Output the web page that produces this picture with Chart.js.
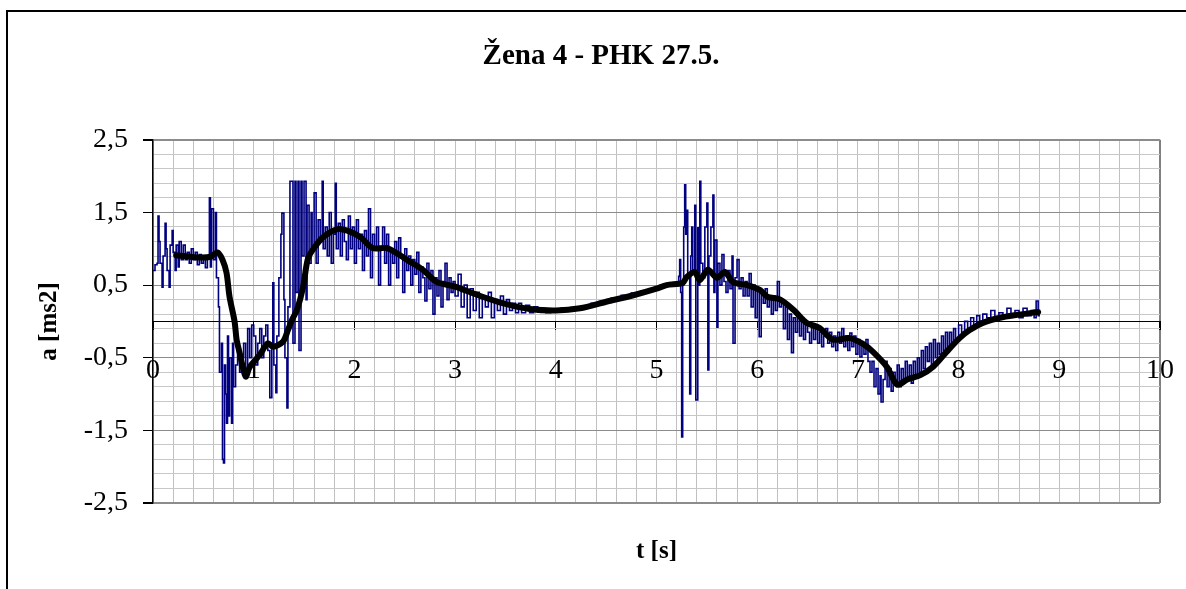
<!DOCTYPE html>
<html><head><meta charset="utf-8">
<script src="https://cdn.jsdelivr.net/npm/chart.js@4"></script>
<style>html,body{margin:0;padding:0;background:#fff;} #wrap{width:1186px;height:589px;position:relative;}</style>
</head><body><div id="wrap"><canvas id="c"></canvas></div>
<script>
const chartTitle = 'Žena 4 - PHK 27.5.';
const xAxisTitle = 't [s]';
const yAxisTitle = 'a [ms2]';
const xLabelValues = [0,1,2,3,4,5,6,7,8,9,10];
const yLabelValues = [-2.5,-1.5,-0.5,0.5,1.5,2.5];

// smoothed acceleration (black)
const blackTrace = [
[0.23,0.91],[0.37,0.89],[0.47,0.88],[0.57,0.89],[0.64,0.95],[0.69,0.85],[0.73,0.67],[0.76,0.34],
[0.81,0.00],[0.83,-0.25],[0.86,-0.43],[0.92,-0.76],[0.96,-0.63],[1.06,-0.46],[1.14,-0.30],[1.19,-0.35],
[1.29,-0.28],[1.34,-0.12],[1.38,0.02],[1.43,0.16],[1.49,0.47],[1.54,0.87],[1.61,1.03],[1.69,1.16],
[1.83,1.27],[1.93,1.25],[2.06,1.16],[2.18,1.01],[2.32,1.01],[2.42,0.94],[2.52,0.85],[2.68,0.71],
[2.82,0.54],[3.00,0.48],[3.25,0.35],[3.50,0.24],[3.74,0.17],[4.00,0.15],[4.24,0.18],[4.50,0.27],
[4.77,0.36],[5.00,0.45],[5.10,0.50],[5.26,0.53],[5.30,0.61],[5.38,0.68],[5.43,0.57],[5.51,0.71],
[5.60,0.60],[5.68,0.68],[5.76,0.54],[5.90,0.50],[6.03,0.43],[6.10,0.34],[6.23,0.30],[6.36,0.16],
[6.49,-0.02],[6.62,-0.09],[6.75,-0.25],[6.92,-0.23],[7.05,-0.31],[7.15,-0.42],[7.29,-0.63],[7.39,-0.87],
[7.49,-0.80],[7.62,-0.74],[7.75,-0.62],[7.88,-0.42],[8.01,-0.23],[8.11,-0.12],[8.24,-0.02],[8.41,0.05],
[8.58,0.09],[8.79,0.13]
];

// raw acceleration (blue)
const blueTrace = [
[0.00,0.70],[0.02,0.78],[0.04,0.80],[0.05,1.45],[0.06,1.10],[0.07,0.80],[0.09,0.47],[0.10,0.90],
[0.12,1.35],[0.13,1.00],[0.14,0.70],[0.16,0.47],[0.17,1.05],[0.19,1.25],[0.20,0.95],[0.22,0.70],
[0.23,1.05],[0.25,0.75],[0.26,1.10],[0.28,0.85],[0.30,1.05],[0.32,0.85],[0.34,0.95],[0.36,0.80],
[0.38,1.00],[0.40,0.85],[0.42,0.95],[0.44,0.78],[0.46,0.92],[0.48,0.80],[0.50,0.90],[0.52,0.74],
[0.54,0.88],[0.56,1.70],[0.57,0.75],[0.58,1.55],[0.60,0.85],[0.62,1.50],[0.63,0.60],[0.65,0.20],
[0.66,-0.70],[0.68,-0.30],[0.69,-1.90],[0.70,-1.95],[0.71,-0.60],[0.72,-1.00],[0.73,-1.40],[0.74,-0.20],
[0.75,-1.30],[0.76,-0.50],[0.78,-1.40],[0.79,-0.30],[0.80,-0.90],[0.82,-0.60],[0.84,-0.40],[0.86,-0.70],
[0.88,-0.50],[0.90,-0.30],[0.92,-0.70],[0.94,-0.10],[0.96,-0.50],[0.98,-0.05],[1.00,-0.20],[1.02,-0.60],
[1.04,-0.30],[1.06,-0.10],[1.08,-0.50],[1.10,-0.20],[1.12,-0.05],[1.14,-0.40],[1.16,-1.05],[1.18,-0.30],
[1.19,0.53],[1.20,-0.60],[1.22,-0.98],[1.23,-0.20],[1.25,0.60],[1.27,1.20],[1.28,1.49],[1.30,0.30],
[1.31,-0.50],[1.33,-1.19],[1.34,0.20],[1.36,1.93],[1.38,1.93],[1.39,-0.30],[1.41,1.93],[1.42,0.40],
[1.44,1.93],[1.45,-0.40],[1.47,1.93],[1.48,0.90],[1.50,1.93],[1.52,0.30],[1.53,1.60],[1.55,0.80],
[1.57,1.50],[1.58,1.00],[1.60,1.77],[1.62,0.80],[1.64,1.40],[1.66,1.10],[1.68,1.93],[1.69,1.00],
[1.71,1.30],[1.73,0.90],[1.75,1.50],[1.77,0.80],[1.79,1.20],[1.81,1.90],[1.82,1.00],[1.84,1.35],
[1.86,0.90],[1.88,1.40],[1.90,1.10],[1.92,0.85],[1.94,1.45],[1.96,1.00],[1.98,1.30],[2.00,0.80],
[2.02,1.40],[2.04,1.00],[2.06,1.20],[2.08,0.70],[2.10,1.25],[2.12,0.90],[2.14,1.55],[2.16,0.60],
[2.18,1.20],[2.20,1.00],[2.22,1.30],[2.24,0.50],[2.26,1.00],[2.28,1.30],[2.30,0.80],[2.32,1.20],
[2.34,0.50],[2.36,1.00],[2.38,0.80],[2.40,1.10],[2.42,0.60],[2.44,1.15],[2.46,0.90],[2.48,0.40],
[2.50,1.00],[2.52,0.70],[2.54,0.90],[2.56,0.50],[2.58,0.85],[2.60,0.65],[2.62,0.95],[2.64,0.40],
[2.66,0.75],[2.68,0.60],[2.70,0.28],[2.72,0.80],[2.74,0.45],[2.76,0.70],[2.78,0.10],[2.80,0.60],
[2.82,0.35],[2.84,0.70],[2.86,0.20],[2.88,0.55],[2.90,0.80],[2.92,0.30],[2.94,0.60],[2.96,0.40],
[2.98,0.55],[3.00,0.35],[3.03,0.65],[3.06,0.20],[3.09,0.50],[3.12,0.05],[3.15,0.45],[3.18,0.15],
[3.21,0.40],[3.24,0.05],[3.27,0.35],[3.30,0.20],[3.33,0.40],[3.36,0.05],[3.39,0.30],[3.42,0.15],
[3.45,0.35],[3.48,0.10],[3.51,0.30],[3.54,0.15],[3.57,0.25],[3.60,0.12],[3.63,0.25],[3.66,0.12],
[3.70,0.22],[3.74,0.12],[3.78,0.20],[3.82,0.13],[3.86,0.18],[3.90,0.12],[3.95,0.17],[4.00,0.14],
[4.05,0.18],[4.10,0.15],[4.15,0.19],[4.20,0.17],[4.25,0.21],[4.30,0.20],[4.35,0.25],[4.40,0.24],
[4.45,0.28],[4.50,0.28],[4.55,0.32],[4.60,0.31],[4.65,0.36],[4.70,0.35],[4.75,0.39],[4.80,0.39],
[4.85,0.42],[4.90,0.42],[4.95,0.45],[5.00,0.46],[5.05,0.49],[5.10,0.49],[5.15,0.52],[5.20,0.53],
[5.22,0.62],[5.23,0.85],[5.24,0.40],[5.25,-1.59],[5.26,0.50],[5.27,1.30],[5.28,1.88],[5.29,1.20],
[5.30,1.53],[5.31,0.60],[5.33,-1.00],[5.34,0.90],[5.35,1.30],[5.36,0.70],[5.38,1.60],[5.39,-1.08],
[5.41,1.29],[5.42,0.50],[5.43,1.93],[5.44,0.80],[5.46,0.60],[5.48,1.30],[5.50,1.63],[5.51,-0.67],
[5.52,0.90],[5.54,1.30],[5.56,1.74],[5.57,0.40],[5.58,1.12],[5.60,-0.08],[5.61,0.80],[5.63,0.50],
[5.65,0.92],[5.67,0.55],[5.69,0.40],[5.71,0.70],[5.73,0.45],[5.75,0.90],[5.76,-0.30],[5.78,0.60],
[5.80,0.85],[5.82,0.45],[5.84,0.60],[5.86,0.35],[5.88,0.55],[5.90,0.35],[5.92,0.66],[5.94,0.20],
[5.96,0.50],[5.98,0.05],[6.00,0.45],[6.02,-0.21],[6.04,0.40],[6.06,0.25],[6.08,0.45],[6.10,0.20],
[6.12,0.35],[6.14,0.10],[6.16,0.35],[6.18,0.15],[6.20,0.55],[6.22,0.20],[6.24,0.30],[6.26,-0.10],
[6.28,0.20],[6.30,-0.25],[6.32,0.10],[6.34,-0.43],[6.36,0.05],[6.38,-0.15],[6.40,0.10],[6.42,-0.20],
[6.44,0.05],[6.46,-0.25],[6.48,0.00],[6.50,-0.15],[6.52,-0.30],[6.54,-0.05],[6.56,-0.25],[6.58,-0.10],
[6.60,-0.30],[6.62,-0.15],[6.64,-0.35],[6.66,-0.20],[6.68,-0.10],[6.70,-0.30],[6.72,-0.15],[6.74,-0.35],
[6.76,-0.20],[6.78,-0.40],[6.80,-0.15],[6.82,-0.30],[6.84,-0.10],[6.86,-0.35],[6.88,-0.20],[6.90,-0.40],
[6.92,-0.16],[6.94,-0.35],[6.96,-0.20],[6.98,-0.45],[7.00,-0.25],[7.02,-0.49],[7.04,-0.30],[7.06,-0.45],
[7.08,-0.25],[7.10,-0.55],[7.12,-0.70],[7.14,-0.55],[7.16,-0.90],[7.18,-0.65],[7.20,-1.00],[7.22,-0.75],
[7.23,-1.11],[7.25,-0.80],[7.27,-0.55],[7.29,-0.90],[7.31,-0.65],[7.33,-0.96],[7.35,-0.70],[7.37,-0.85],
[7.39,-0.60],[7.41,-0.90],[7.43,-0.65],[7.45,-0.85],[7.47,-0.55],[7.49,-0.80],[7.51,-0.60],[7.53,-0.85],
[7.55,-0.55],[7.57,-0.75],[7.59,-0.50],[7.61,-0.70],[7.63,-0.40],[7.65,-0.65],[7.67,-0.35],[7.69,-0.55],
[7.71,-0.30],[7.73,-0.60],[7.75,-0.25],[7.77,-0.50],[7.79,-0.30],[7.81,-0.45],[7.83,-0.20],[7.85,-0.40],
[7.87,-0.15],[7.89,-0.35],[7.91,-0.15],[7.93,-0.30],[7.95,-0.10],[7.97,-0.25],[8.00,-0.05],[8.03,-0.15],
[8.06,0.00],[8.09,-0.10],[8.12,0.05],[8.15,-0.05],[8.18,0.08],[8.21,0.00],[8.24,0.10],[8.28,0.05],
[8.32,0.15],[8.36,0.05],[8.40,0.12],[8.44,0.06],[8.48,0.18],[8.52,0.08],[8.56,0.15],[8.60,0.05],
[8.64,0.18],[8.68,0.08],[8.72,0.15],[8.75,0.05],[8.77,0.28],[8.79,0.08],[8.80,0.15]
];

const near = (a, b) => Math.abs(a - b) < 1e-6;
const isYLabel = v => yLabelValues.some(m => near(m, v));
const isXLabel = v => xLabelValues.some(m => near(m, v));
const fmtComma = v => v.toFixed(1).replace('.', ',');

Chart.defaults.font.family = "'Times New Roman','Liberation Serif',serif";
Chart.defaults.color = '#000';

const framePlugin = {
  id: 'frame',
  beforeDraw(chart) {
    const c = chart.ctx;
    c.save();
    c.fillStyle = '#fff';
    c.fillRect(0, 0, chart.width, chart.height);
    c.strokeStyle = '#000';
    c.lineWidth = 2;
    c.beginPath();
    c.moveTo(7, chart.height + 2);
    c.lineTo(7, 11);
    c.lineTo(chart.width + 2, 11);
    c.stroke();
    c.restore();
  }
};

new Chart(document.getElementById('c'), {
  type: 'line',
  data: {
    datasets: [
      { label: 'smooth', data: blackTrace.map(([x, y]) => ({x, y})), borderColor: '#000', borderWidth: 6,
        pointRadius: 0, tension: 0.3, borderJoinStyle: 'round', borderCapStyle: 'round', order: 0 },
      { label: 'raw', data: blueTrace.map(([x, y]) => ({x, y})), borderColor: '#000080', borderWidth: 1.6,
        pointRadius: 0, stepped: true, order: 1 }
    ]
  },
  options: {
    responsive: true, maintainAspectRatio: false, animation: false, devicePixelRatio: 1,
    layout: { padding: { left: 16, right: 0, top: 0, bottom: 0 } },
    plugins: {
      legend: { display: false }, tooltip: { enabled: false },
      title: { display: true, text: chartTitle, color: '#000', font: { size: 29, weight: 'bold' }, padding: { top: 39, bottom: 66 } }
    },
    scales: {
      x: {
        type: 'linear', min: 0, max: 10, position: { y: 0 },
        afterFit: s => { s.paddingLeft = 0; s.paddingRight = 0; },
        ticks: { stepSize: 0.2, autoSkip: false, maxTicksLimit: 100, maxRotation: 0, padding: 24, color: '#000',
          font: { size: 28 }, callback: v => isXLabel(v) ? String(Math.round(v)) : '' },
        grid: { color: ctx => near(ctx.tick.value, 10) ? '#808080' : '#c0c0c0',
          lineWidth: ctx => near(ctx.tick.value, 10) ? 2 : 1,
          tickLength: 8, tickColor: ctx => isXLabel(ctx.tick.value) ? '#000' : 'rgba(0,0,0,0)' },
        border: { color: '#000', width: 1 }
      },
      x2: {
        type: 'linear', position: 'bottom', min: 0, max: 10,
        afterFit: s => { s.height = 86; },
        ticks: { display: false }, grid: { display: false, drawTicks: false }, border: { display: false },
        title: { display: true, text: xAxisTitle, color: '#000', font: { size: 25, weight: 'bold' }, padding: { top: 0, bottom: 22 } }
      },
      y: {
        type: 'linear', min: -2.5, max: 2.5, position: 'left',
        afterFit: s => { s.width = 137; },
        ticks: { stepSize: 0.2, autoSkip: false, maxTicksLimit: 100, padding: 15, color: '#000',
          font: { size: 28 }, callback: v => isYLabel(v) ? fmtComma(v) : '' },
        grid: { color: ctx => isYLabel(ctx.tick.value) ? '#8c8c8c' : '#c8c8c8',
          lineWidth: ctx => (near(ctx.tick.value, 2.5) || near(ctx.tick.value, -2.5)) ? 2 : 1,
          tickLength: 10, tickColor: ctx => isYLabel(ctx.tick.value) ? '#000' : 'rgba(0,0,0,0)' },
        border: { color: '#000', width: 1.5 },
        title: { display: true, text: yAxisTitle, color: '#000', font: { size: 25, weight: 'bold' }, padding: { top: 19, bottom: 0 } }
      },
      y2: {
        type: 'linear', position: 'right', afterFit: s => { s.width = 26; },
        ticks: { display: false }, grid: { display: false, drawTicks: false }, border: { display: false }
      }
    }
  },
  plugins: [framePlugin]
});
</script>
</body></html>
